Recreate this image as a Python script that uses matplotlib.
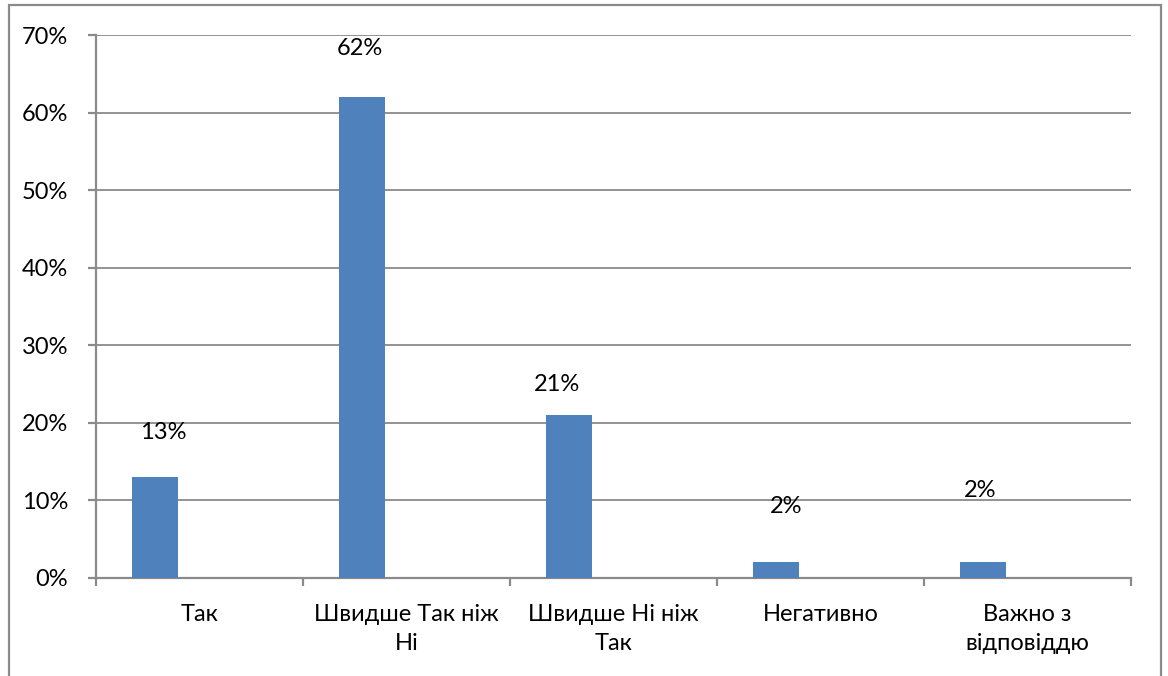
import matplotlib
matplotlib.use("Agg")
import matplotlib.pyplot as plt
from matplotlib.patches import Rectangle
from matplotlib.ticker import PercentFormatter, FixedLocator

categories = ["Так", "Швидше Так ніж\nНі", "Швидше Ні ніж\nТак", "Негативно", "Важно з\nвідповіддю"]
values = [13, 62, 21, 2, 2]
value_labels = ["13%", "62%", "21%", "2%", "2%"]
# label placement (layout, manually positioned in original)
label_x_shift = [0.04, -0.01, -0.06, 0.05, -0.015]
label_y = [18.8, 68.3, 24.9, 9.2, 11.3]

plt.rcParams['font.family'] = ['Lato', 'DejaVu Sans']
W, H = 1168, 676
FS = 17
fig = plt.figure(figsize=(W / 100, H / 100), dpi=100)
fig.patch.set_facecolor("white")

grey = "#8a8a8a"
fig.patches.append(Rectangle((9 / W, -0.05), (1161 - 9) / W, 1.05 - 5 / H,
                             transform=fig.transFigure, fill=False,
                             edgecolor=grey, linewidth=1.6))

ax = fig.add_axes([96 / W, (H - 578) / H, (1131 - 96) / W, (578 - 35) / H])
offset = -0.215
xs = [i + offset for i in range(len(categories))]
ax.bar(xs, values, width=0.222, color="#4F81BD", zorder=3)

for i, (lab, ly) in enumerate(zip(value_labels, label_y)):
    ax.text(xs[i] + label_x_shift[i], ly, lab, ha="center", va="center",
            fontsize=FS, color="black", zorder=4)

ax.set_xlim(-0.5, len(categories) - 0.5)
ax.set_ylim(0, 70)
ax.yaxis.set_major_locator(FixedLocator(range(0, 71, 10)))
ax.yaxis.set_major_formatter(PercentFormatter(decimals=0))
ax.set_xticks(range(len(categories)))
ax.set_xticklabels(categories, fontsize=FS, linespacing=1.45)
ax.set_xticks([i - 0.5 for i in range(len(categories) + 1)], minor=True)
ax.tick_params(axis="x", which="major", length=0, pad=19)
ax.tick_params(axis="x", which="minor", length=6, width=1.6, color=grey, direction="out")
ax.tick_params(axis="y", length=6, width=1.6, color=grey, labelsize=FS, pad=14)

ax.grid(axis="y", color=grey, linewidth=1.3, zorder=0)
for s in ["top", "right"]:
    ax.spines[s].set_visible(False)
for s in ["left", "bottom"]:
    ax.spines[s].set_color(grey)
    ax.spines[s].set_linewidth(1.6)
ax.set_axisbelow(True)

fig.savefig("out.png", dpi=100)
